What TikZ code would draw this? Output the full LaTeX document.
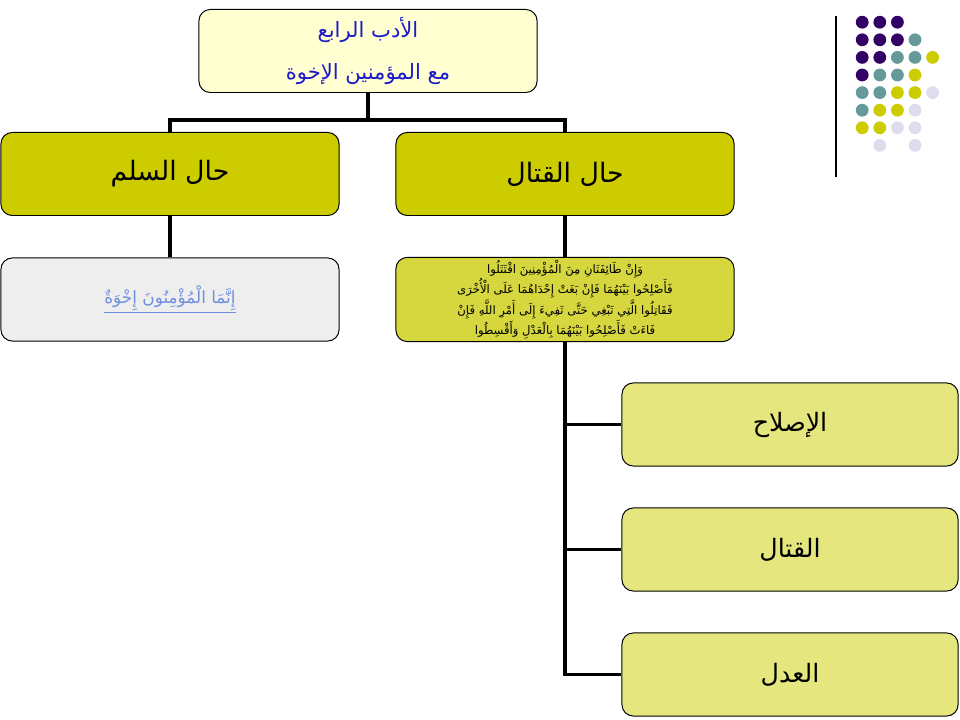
\documentclass[tikz,border=0pt]{standalone}
\usepackage{fontspec}
\setmainfont{DejaVu Sans}
\newfontfamily\arabicfont[Script=Arabic]{DejaVu Sans}
\TeXXeTstate=1

\definecolor{titlefill}{HTML}{FFFFD2}
\definecolor{titleblue}{HTML}{1A1AC8}
\definecolor{headfill}{HTML}{CCCC00}
\definecolor{versefill}{HTML}{D6D63E}
\definecolor{leaffill}{HTML}{E6E67E}
\definecolor{peacefill}{HTML}{EEEEEE}
\definecolor{linkblue}{HTML}{6F8FE0}
\definecolor{dotP}{HTML}{330066}
\definecolor{dotT}{HTML}{669999}
\definecolor{dotY}{HTML}{CCCC00}
\definecolor{dotL}{HTML}{DDDDEE}

\newcommand{\artext}[1]{{\arabicfont\beginR #1\endR}}

\begin{document}
\begin{tikzpicture}[
    x=0.025cm, y=-0.025cm,
    conn/.style   = {line width=2.6pt},
    box/.style    = {draw, line width=0.7pt, rounded corners=8pt, align=center,
                     minimum width=8.45cm, minimum height=2.075cm, inner sep=2pt},
    titlebox/.style = {box, fill=titlefill, text=titleblue,
                     font=\fontsize{15}{30}\selectfont},
    headbox/.style  = {box, fill=headfill, font=\fontsize{19}{22}\selectfont},
    versebox/.style = {box, fill=versefill, font=\fontsize{8.3}{14.6}\selectfont},
    peacebox/.style = {box, fill=peacefill, text=linkblue, font=\fontsize{12}{14}\selectfont},
    leafbox/.style  = {box, fill=leaffill, minimum width=8.4cm,
                     font=\fontsize{18}{22}\selectfont}
]
\useasboundingbox (0,0) rectangle (960,720);

% Top of the tree
\node[titlebox] (top) at (368, 51)
    {\artext{الأدب الرابع}\\ \artext{مع المؤمنين الإخوة}};

% The two states
\node[headbox] (peace) at (170, 174) {\artext{حال السلم}};
\node[headbox] (war)   at (565, 174) {\artext{حال القتال}};

% Verses under each state
\node[peacebox] (brothers) at (170, 299.5)
    {\underline{\artext{إِنَّمَا الْمُؤْمِنُونَ إِخْوَةٌ}}};
\node[versebox] (verse) at (565, 299.5)
    {\artext{وَإِنْ طَائِفَتَانِ مِنَ الْمُؤْمِنِينَ اقْتَتَلُوا}\\
     \artext{فَأَصْلِحُوا بَيْنَهُمَا فَإِنْ بَغَتْ إِحْدَاهُمَا عَلَى الْأُخْرَى}\\
     \artext{فَقَاتِلُوا الَّتِي تَبْغِي حَتَّى تَفِيءَ إِلَى أَمْرِ اللَّهِ فَإِنْ}\\
     \artext{فَاءَتْ فَأَصْلِحُوا بَيْنَهُمَا بِالْعَدْلِ وَأَقْسِطُوا}};

% Steps of the fighting case
\node[leafbox] (reform)  at (790, 424.5) {\artext{الإصلاح}};
\node[leafbox] (fight)   at (790, 549.5) {\artext{القتال}};
\node[leafbox] (justice) at (790, 674.5) {\artext{العدل}};

% Connectors
\coordinate (bus) at (368, 120);
\draw[conn] (top.south) -- (bus);
\draw[conn] (bus) -| (peace.north);
\draw[conn] (bus) -| (war.north);
\draw[conn] (peace.south) -- (brothers.north);
\draw[conn] (war.south) -- (verse.north);
\draw[conn] (verse.south) |- (reform.west);
\draw[conn] (verse.south) |- (fight.west);
\draw[conn] (verse.south) |- (justice.west);

% Corner decoration
\draw[line width=0.9pt] (836, 16) -- (836, 177);
\foreach \c/\r/\col in {1/1/dotP, 2/1/dotP, 3/1/dotP,
                        1/2/dotP, 2/2/dotP, 3/2/dotP, 4/2/dotT,
                        1/3/dotP, 2/3/dotP, 3/3/dotT, 4/3/dotT, 5/3/dotY,
                        1/4/dotP, 2/4/dotT, 3/4/dotT, 4/4/dotY,
                        1/5/dotT, 2/5/dotT, 3/5/dotY, 4/5/dotY, 5/5/dotL,
                        1/6/dotT, 2/6/dotY, 3/6/dotY, 4/6/dotL,
                        1/7/dotY, 2/7/dotY, 3/7/dotL, 4/7/dotL,
                        2/8/dotL, 4/8/dotL}
    \fill[\col] (844.6+17.6*\c, 4.6+17.6*\r) circle[radius=0.16cm];

\end{tikzpicture}
\end{document}
